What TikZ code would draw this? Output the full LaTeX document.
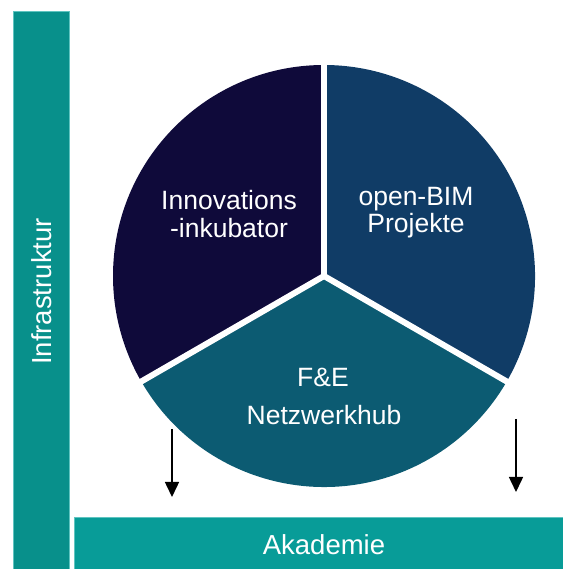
\documentclass[tikz,border=0pt]{standalone}
\usepackage{fontspec}
\setmainfont{Liberation Sans}
\usetikzlibrary{arrows.meta}
\definecolor{barteal}{HTML}{08908B}
\definecolor{barteallight}{HTML}{089C98}
\definecolor{baredge}{HTML}{5FC4C0}
\definecolor{sectA}{HTML}{0F0A3A}
\definecolor{sectB}{HTML}{103C66}
\definecolor{sectC}{HTML}{0C5B72}
\tikzset{
  bartext/.style={text=white,font=\fontsize{27.5}{30}\selectfont,inner sep=0pt},
  pietext/.style={text=white,font=\fontsize{26.5}{28}\selectfont,inner sep=0pt,anchor=base},
  flow/.style={line width=1.5pt,-{Triangle[length=15pt,width=14pt]}},
  gap/.style={white,line width=6pt}
}
\begin{document}
\begin{tikzpicture}[x=1pt,y=1pt]
  \useasboundingbox (0,0) rectangle (563,569);
  % frame bars
  \fill[barteal] (13,0) rectangle (69.5,558);
  \draw[baredge,line width=0.6pt] (13,0) -- (13,558) -- (69.5,558) -- (69.5,0);
  \fill[barteallight] (74.5,0) rectangle (563,51.5);
  \draw[baredge,line width=0.6pt] (74.5,0) -- (74.5,51.5) -- (563,51.5);
  \node[bartext,rotate=90] (infra) at (42,277.5) {Infrastruktur};
  \node[bartext,anchor=base] (akad) at (324,14) {Akademie};
  % pie with three sectors
  \coordinate (c) at (324,293);
  \fill[sectA] (c) -- ++(90:211) arc (90:210:211) -- cycle;
  \fill[sectB] (c) -- ++(-30:211) arc (-30:90:211) -- cycle;
  \fill[sectC] (c) -- ++(210:211) arc (210:330:211) -- cycle;
  \draw[gap] (c) -- ++(90:215);
  \draw[gap] (c) -- ++(210:215);
  \draw[gap] (c) -- ++(330:215);
  \node[pietext] (inno1) at (229,359) {Innovations};
  \node[pietext] (inno2) at (229,331) {-inkubator};
  \node[pietext] (bim1) at (416,363) {open-BIM};
  \node[pietext] (bim2) at (416,336) {Projekte};
  \node[pietext] (fe1) at (323,182) {F\&E};
  \node[pietext] (fe2) at (324,144) {Netzwerkhub};
  % arrows down to the academy bar
  \coordinate (la) at (172,140);
  \coordinate (lb) at (172,72);
  \coordinate (ra) at (516,150);
  \coordinate (rb) at (516,77);
  \draw[flow] (la) -- (lb);
  \draw[flow] (ra) -- (rb);
\end{tikzpicture}
\end{document}
